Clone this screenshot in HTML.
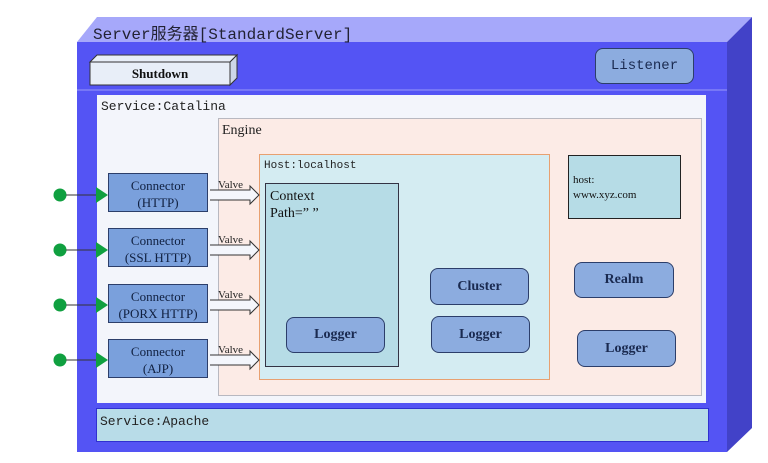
<!DOCTYPE html>
<html><head><style>
body{margin:0;width:768px;height:463px;background:#fff;position:relative;overflow:hidden;font-family:"Liberation Serif","Noto Serif CJK SC",serif;}
div{position:absolute;box-sizing:border-box;}
.btn{background:#8cacdf;border:1.5px solid #2c3e6a;border-radius:8px;font-size:14px;font-weight:bold;color:#1a2a50;display:flex;align-items:center;justify-content:center;}
.con{background:#7aa0dc;border:1.5px solid #2c3e6a;font-size:13px;color:#102040;text-align:center;line-height:17px;padding-top:3px;}
.mono{font-family:"Liberation Mono","Noto Sans CJK SC",monospace;}
</style></head><body>
<svg width="768" height="463" style="position:absolute;left:0;top:0">
<polygon points="77,42 97,17 752,17 727,42" fill="#a6a8fa"/>
<polygon points="727,42 752,17 752,428 727,452" fill="#4242c8"/>
<rect x="77" y="42" width="650" height="410" fill="#5454f4"/>
<line x1="77" y1="90" x2="727" y2="90" stroke="#9a9af8" stroke-width="1"/>
<polygon points="90,62 97,55 237,55 230,62" fill="#e8eef8" stroke="#333" stroke-width="1"/>
<polygon points="230,62 237,55 237,78 230,85" fill="#cdd6e8" stroke="#333" stroke-width="1"/>
<rect x="90" y="62" width="140" height="23" fill="#e8eef8" stroke="#333" stroke-width="1"/>
</svg>
<div class="mono" style="left:93px;top:20px;font-size:16px;color:#223">Server服务器[StandardServer]</div>
<div style="left:90px;top:62px;width:140px;height:23px;font-size:13px;font-weight:bold;display:flex;align-items:center;justify-content:center;color:#111">Shutdown</div>
<div class="btn mono" style="left:595px;top:48px;width:99px;height:36px;font-weight:normal;font-size:14px">Listener</div>
<div style="left:97px;top:95px;width:609px;height:308px;background:#f3f5fb;"></div>
<div class="mono" style="left:101px;top:99px;font-size:13px;color:#222">Service:Catalina</div>
<div style="left:218px;top:118px;width:484px;height:278px;background:#fcebe6;border:1px solid #b8b8c0"></div>
<div style="left:222px;top:123px;font-size:14px;color:#222">Engine</div>
<div style="left:259px;top:154px;width:291px;height:226px;background:#d4ecf2;border:1px solid #e8a070"></div>
<div class="mono" style="left:264px;top:160px;font-size:11px;color:#222">Host:localhost</div>
<div style="left:265px;top:183px;width:134px;height:184px;background:#b6dce6;border:1px solid #334"></div>
<div style="left:270px;top:188px;font-size:14px;color:#111;line-height:17px">Context<br>Path=” ”</div>
<div class="btn" style="left:286px;top:317px;width:99px;height:36px">Logger</div>
<div class="btn" style="left:430px;top:268px;width:99px;height:37px">Cluster</div>
<div class="btn" style="left:431px;top:316px;width:99px;height:37px">Logger</div>
<div style="left:568px;top:155px;width:113px;height:64px;background:#b6dce6;border:1.5px solid #222;font-size:11px;padding:17px 0 0 4px;line-height:15px;color:#111">host:<br>www.xyz.com</div>
<div class="btn" style="left:574px;top:262px;width:100px;height:36px">Realm</div>
<div class="btn" style="left:577px;top:330px;width:99px;height:37px">Logger</div>
<div style="left:96px;top:408px;width:613px;height:34px;background:#b8dce8;border:1.5px solid #3030d0"></div>
<div class="mono" style="left:100px;top:414px;font-size:13px;color:#222">Service:Apache</div>
<div class="con" style="left:108px;top:173px;width:100px;height:39px">Connector<br>(HTTP)</div>
<div class="con" style="left:108px;top:228px;width:100px;height:39px">Connector<br>(SSL HTTP)</div>
<div class="con" style="left:108px;top:284px;width:100px;height:39px">Connector<br>(PORX HTTP)</div>
<div class="con" style="left:108px;top:339px;width:100px;height:39px">Connector<br>(AJP)</div>
<svg width="768" height="463" style="position:absolute;left:0;top:0">
<g id="a">
<circle cx="60" cy="195" r="6.5" fill="#10a040"/>
<line x1="66" y1="195" x2="98" y2="195" stroke="#333" stroke-width="1"/>
<polygon points="96,187 108,195 96,203" fill="#10a040"/>
<path d="M210,190 L250,190 L250,186 L259,195 L250,204 L250,200 L210,200" fill="#f4f6fc" stroke="#333" stroke-width="1"/>
<text x="218" y="188" font-size="11" font-family="Liberation Serif" fill="#222">Valve</text>
</g>
<use href="#a" y="55"/><use href="#a" y="110"/><use href="#a" y="165"/>
</svg>
</body></html>
